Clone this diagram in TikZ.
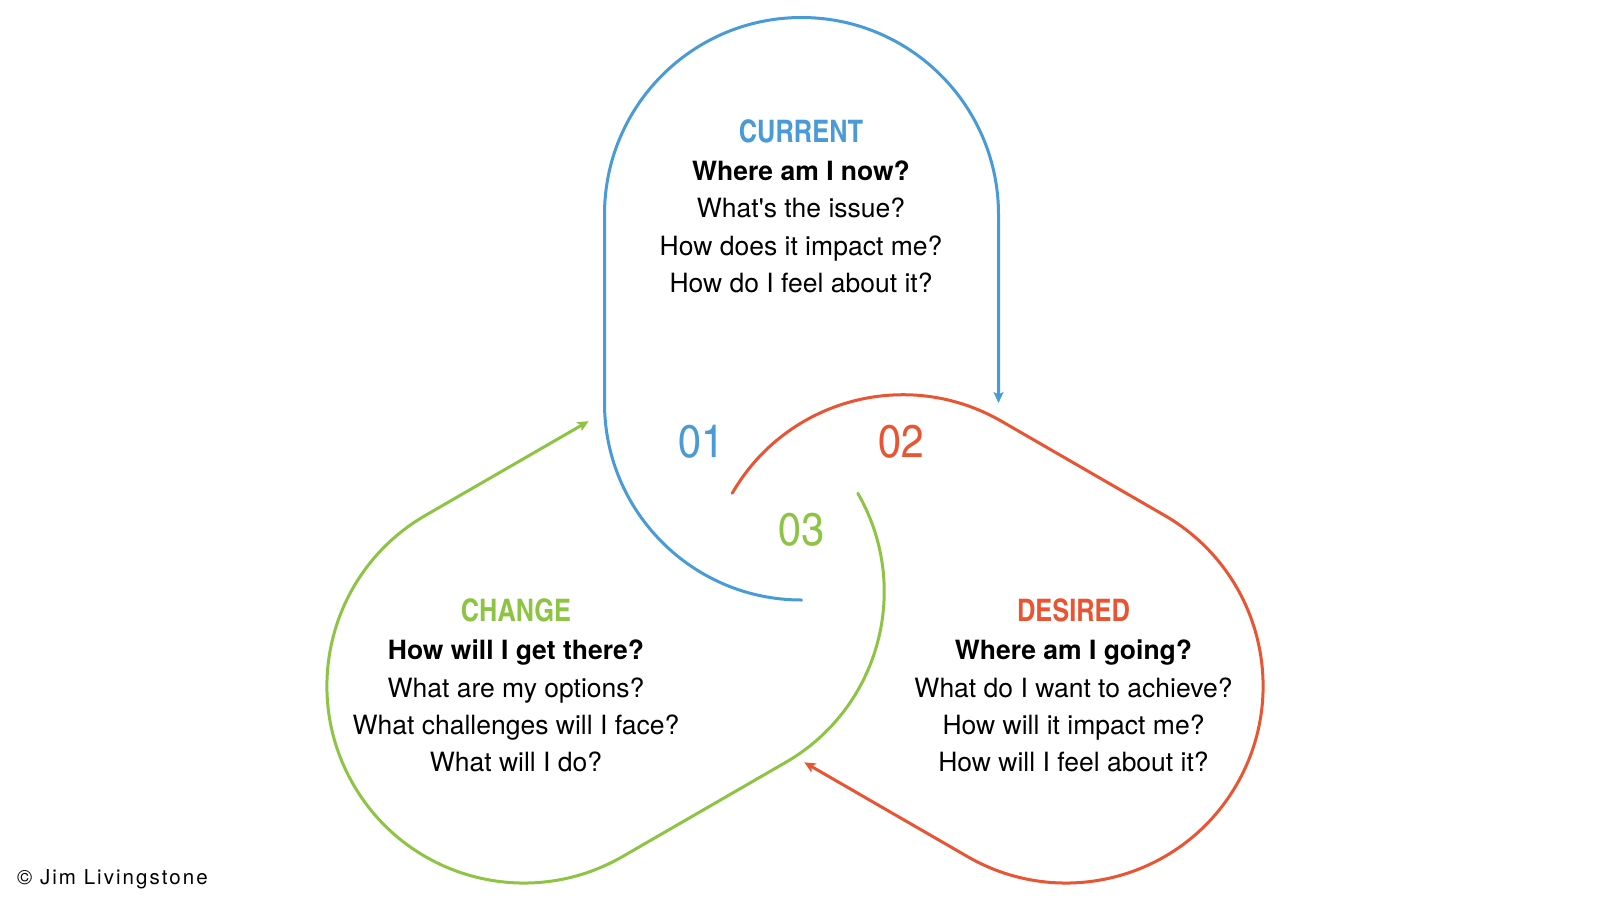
\documentclass[tikz,border=0pt]{standalone}
\usepackage{fontspec}
\setmainfont{TeX Gyre Heros}
\newfontfamily\apfont{TeX Gyre Heros}[Ligatures=TeXOff]
\newfontfamily\hdrfont{texgyreheroscn-bold.otf}
\newfontfamily\numfont[FakeStretch=1.08]{texgyreheroscn-regular.otf}
\newfontfamily\copyfont[LetterSpace=10]{TeX Gyre Heros}
\usetikzlibrary{arrows.meta}
\definecolor{cblue}{RGB}{72,155,214}
\definecolor{cred}{RGB}{233,84,50}
\definecolor{cgreen}{RGB}{141,196,67}
\tikzset{
  loopline/.style={line width=3pt, line cap=round},
  looptip/.style={-{Stealth[length=11pt,width=10pt,inset=2.5pt]}},
  hdr/.style={font=\hdrfont\fontsize{31}{31}\selectfont, anchor=base, inner sep=0pt},
  qbold/.style={font=\bfseries\fontsize{26.5}{30}\selectfont, anchor=base, inner sep=0pt},
  qtext/.style={font=\fontsize{26.5}{30}\selectfont, anchor=base, inner sep=0pt},
  num/.style={font=\numfont\fontsize{46}{46}\selectfont, anchor=center, inner sep=0pt},
}
\newcommand\loopshape[2]{%
  \coordinate (#2-start) at (0,72.5);
  \coordinate (#2-side) at (-197,-313);
  \coordinate (#2-end) at (197,-124.5);
  \draw[loopline, draw=#1, looptip] (#2-start)
     arc[start angle=90, end angle=180, radius=197] -- (#2-side)
     arc[start angle=180, end angle=360, radius=197] -- (#2-end);
}
\begin{document}
\begin{tikzpicture}[x=1pt, y=-1pt]
\fill[white] (0,0) rectangle (1600,900);
\useasboundingbox (0,0) rectangle (1600,900);

\begin{scope}[shift={(801.5,527.5)}]
  \loopshape{cblue}{cur}
\end{scope}
\begin{scope}[shift={(795,529.5)}, rotate=-120]
  \loopshape{cred}{des}
\end{scope}
\begin{scope}[shift={(795,529.5)}, rotate=120]
  \loopshape{cgreen}{chg}
\end{scope}

% CURRENT
\node[hdr, text=cblue] (curh) at (801,142) {CURRENT};
\node[qbold] (cur1) at (801,180) {Where am I now?};
\node[qtext] (cur2) at (801,217.5) {What{\apfont '}s the issue?};
\node[qtext] (cur3) at (801,255) {How does it impact me?};
\node[qtext] (cur4) at (801,292) {How do I feel about it?};

% CHANGE
\node[hdr, text=cgreen] (chgh) at (516,621.5) {CHANGE};
\node[qbold] (chg1) at (516,659.5) {How will I get there?};
\node[qtext] (chg2) at (516,697) {What are my options?};
\node[qtext] (chg3) at (516,734.5) {What challenges will I face?};
\node[qtext] (chg4) at (516,771.5) {What will I do?};

% DESIRED
\node[hdr, text=cred] (desh) at (1073.5,621.5) {DESIRED};
\node[qbold] (des1) at (1073.5,659.5) {Where am I going?};
\node[qtext] (des2) at (1073.5,697) {What do I want to achieve?};
\node[qtext] (des3) at (1073.5,734.5) {How will it impact me?};
\node[qtext] (des4) at (1073.5,771.5) {How will I feel about it?};

% numbers
\node[num, text=cblue] (n1) at (701.5,441.5) {01};
\node[num, text=cred] (n2) at (901.5,441.5) {02};
\node[num, text=cgreen] (n3) at (801.5,530) {03};

% copyright
\node[font=\copyfont\fontsize{20.5}{21}\selectfont, anchor=base west, inner sep=0pt] (copy) at (17,884) {© Jim Livingstone};
\end{tikzpicture}
\end{document}
